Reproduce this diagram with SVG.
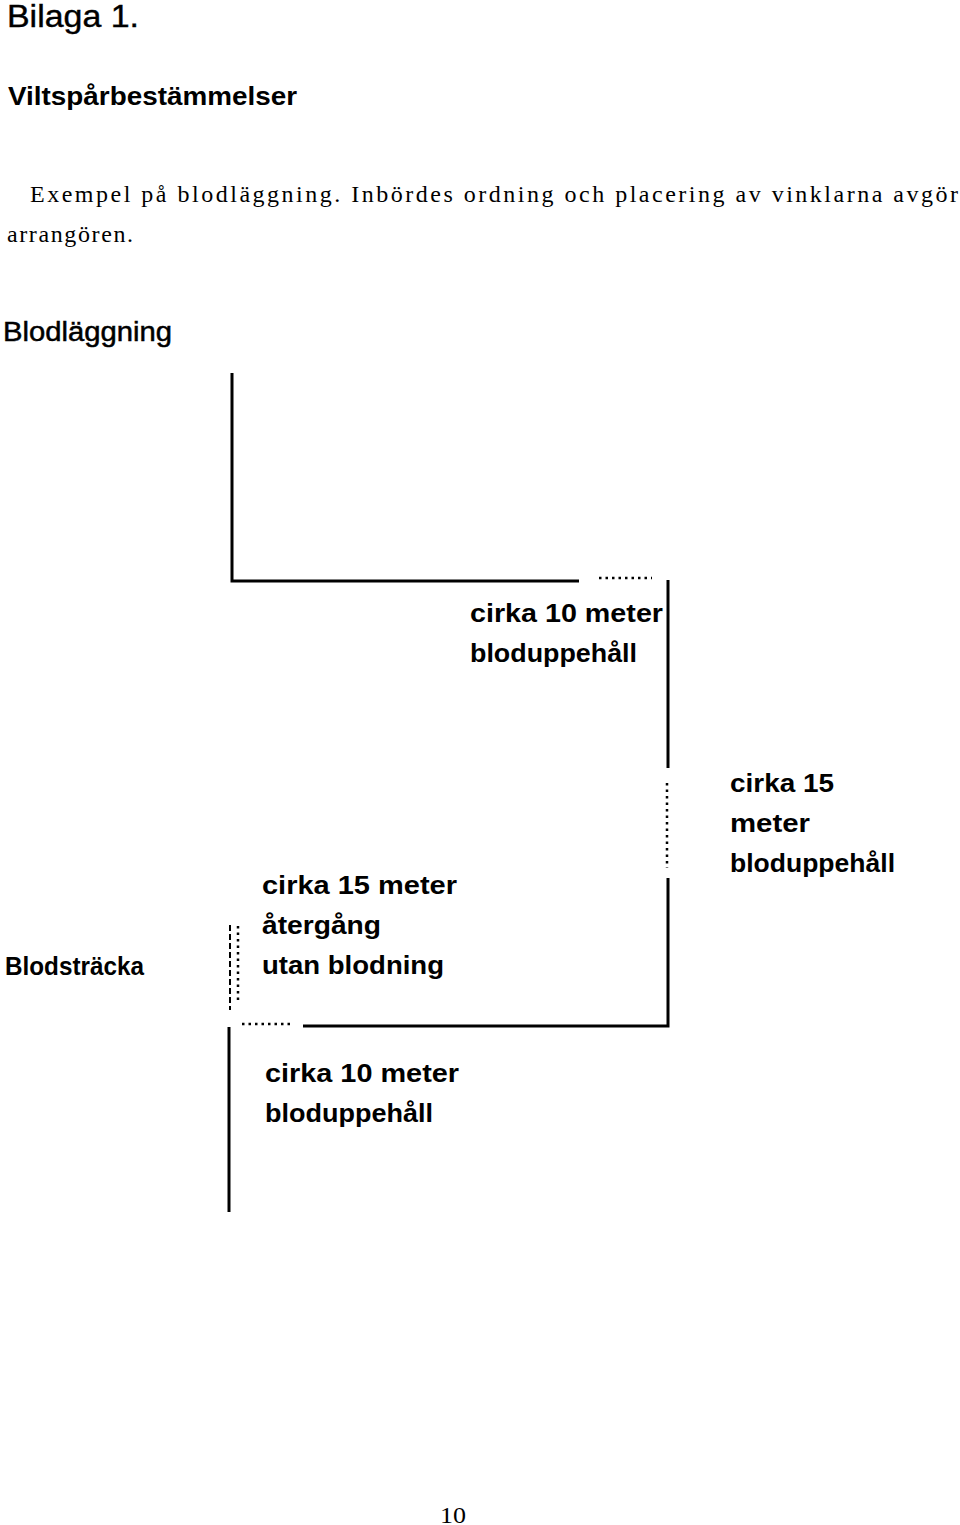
<svg xmlns="http://www.w3.org/2000/svg" width="960" height="1525" viewBox="0 0 960 1525">
<style>
.s{font-family:"Liberation Sans",Arial,sans-serif;fill:#000}
.b{font-family:"Liberation Sans",Arial,sans-serif;font-weight:bold;fill:#000;font-size:26px}
.r{font-family:"Liberation Serif","Times New Roman",serif;fill:#000;font-size:24px}
.ln{stroke:#000;stroke-width:3;fill:none}
.dt{stroke:#000;stroke-width:2.5;fill:none;stroke-dasharray:2.5 4}
.ds{stroke:#000;stroke-width:2;fill:none;stroke-dasharray:6 3}
</style>
<rect width="960" height="1525" fill="#fff"/>
<g id="header">
<text class="s" x="7" y="27" font-size="31" textLength="132" lengthAdjust="spacingAndGlyphs" stroke="#000" stroke-width="0.4">Bilaga 1.</text>
<text class="b" x="8" y="105" font-size="24" textLength="289" lengthAdjust="spacingAndGlyphs">Viltspårbestämmelser</text>
<text class="r" x="30" y="202" textLength="928" lengthAdjust="spacing">Exempel på blodläggning. Inbördes ordning och placering av vinklarna avgör</text>
<text class="r" x="7" y="242" textLength="126" lengthAdjust="spacing">arrangören.</text>
<text class="s" x="3" y="341" font-size="27" textLength="169" lengthAdjust="spacingAndGlyphs" stroke="#000" stroke-width="0.5">Blodläggning</text>
</g>
<g id="connectors">
<path class="ln" d="M232,373 V581 H579"/>
<path class="dt" d="M599,578 H652"/>
<path class="ln" d="M668,580 V768"/>
<path class="dt" d="M667,783 V868"/>
<path class="ln" d="M668,878 V1026 H303"/>
<path class="dt" d="M242,1024 H293"/>
<path class="ln" d="M229,1027 V1212"/>
<path class="ds" d="M230,925 V1010"/>
<path class="dt" d="M238,926 V1004"/>
</g>
<g id="label-1">
<text class="b" x="470" y="622" textLength="193" lengthAdjust="spacingAndGlyphs">cirka 10 meter</text>
<text class="b" x="470" y="662" textLength="167" lengthAdjust="spacingAndGlyphs">bloduppehåll</text>
</g>
<g id="label-2">
<text class="b" x="730" y="792" textLength="104" lengthAdjust="spacingAndGlyphs">cirka 15</text>
<text class="b" x="730" y="832" textLength="80" lengthAdjust="spacingAndGlyphs">meter</text>
<text class="b" x="730" y="872" textLength="165" lengthAdjust="spacingAndGlyphs">bloduppehåll</text>
</g>
<g id="label-3">
<text class="b" x="262" y="894" textLength="195" lengthAdjust="spacingAndGlyphs">cirka 15 meter</text>
<text class="b" x="262" y="934" textLength="119" lengthAdjust="spacingAndGlyphs">återgång</text>
<text class="b" x="262" y="974" textLength="182" lengthAdjust="spacingAndGlyphs">utan blodning</text>
</g>
<g id="label-4">
<text class="b" x="5" y="975" font-size="24" textLength="139" lengthAdjust="spacingAndGlyphs">Blodsträcka</text>
</g>
<g id="label-5">
<text class="b" x="265" y="1082" textLength="194" lengthAdjust="spacingAndGlyphs">cirka 10 meter</text>
<text class="b" x="265" y="1122" textLength="168" lengthAdjust="spacingAndGlyphs">bloduppehåll</text>
</g>
<g id="footer">
<text class="r" x="440" y="1523" textLength="26" lengthAdjust="spacingAndGlyphs">10</text>
</g>
</svg>
